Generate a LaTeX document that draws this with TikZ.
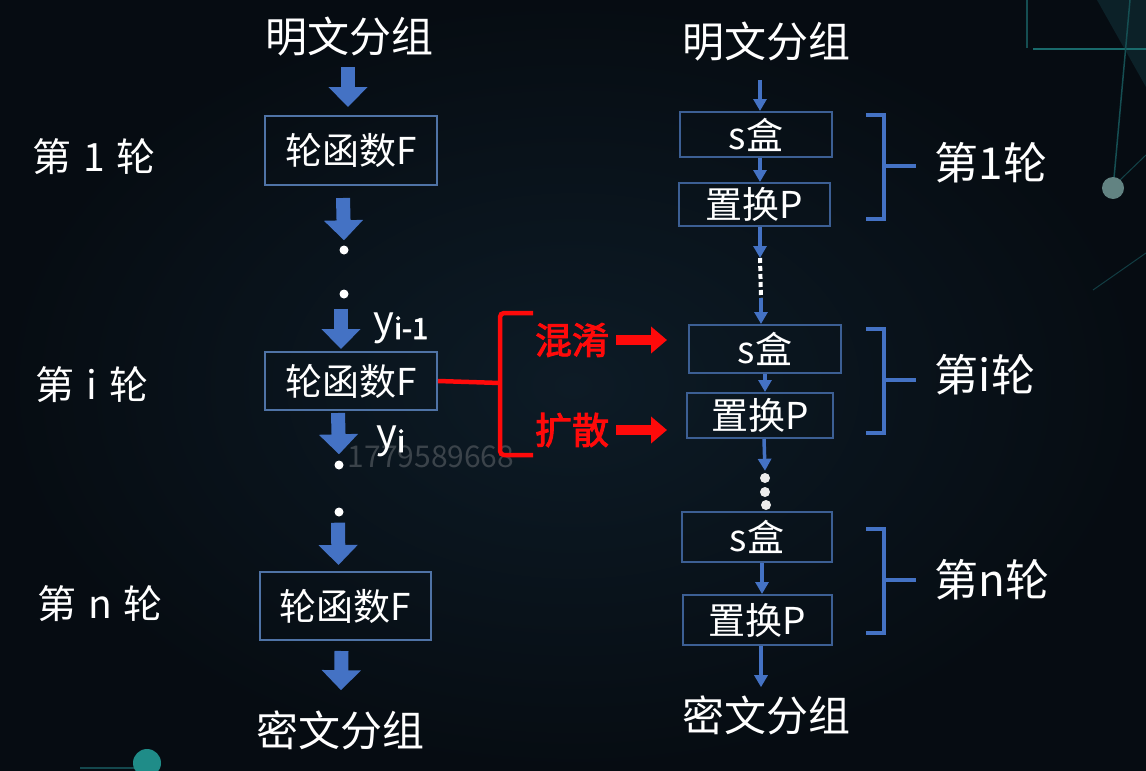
\documentclass[tikz,border=0pt]{standalone}
\usepackage{fontspec}
\setmainfont{Noto Sans CJK SC}
\newfontfamily\cjkbold[FakeBold=2.5]{Noto Sans CJK SC}
\usetikzlibrary{arrows.meta,calc}

\definecolor{bgmid}{HTML}{0D1B26}
\definecolor{bgout}{HTML}{060C12}
\definecolor{flowblue}{HTML}{4472C4}
\definecolor{boxedge}{HTML}{4F73A6}
\definecolor{boxedgeR}{HTML}{3C5F94}
\definecolor{hotred}{HTML}{FF0A0A}
\definecolor{teal}{HTML}{1F8C88}

\tikzset{
  label/.style={text=white, inner sep=0pt, font=\fontsize{42}{44}\selectfont},
  fbox/.style={draw=boxedge, line width=2pt, text=white, inner sep=0pt,
               font=\fontsize{37}{40}\selectfont},
  rbox/.style={draw=boxedgeR, line width=2pt, text=white, inner sep=0pt,
               font=\fontsize{37}{40}\selectfont},
  fat/.style={draw=flowblue, line width=14pt,
              -{Triangle[width=38pt,length=20pt]}},
  thin/.style={draw=flowblue, line width=3.5pt,
               -{Triangle[width=13pt,length=12pt]}},
  dotn/.style={circle, fill=white, inner sep=0pt, minimum size=9pt},
  sdot/.style={circle, fill=white!85!gray, inner sep=0pt, minimum size=10pt},
  redfat/.style={draw=hotred, line width=10pt,
                 -{Triangle[width=26pt,length=16pt]}},
  redword/.style={text=hotred, inner sep=0pt, font=\fontsize{37}{39}\selectfont\cjkbold},
  brace/.style={draw=flowblue, line width=4pt},
  roundlbl/.style={text=white, inner sep=0pt, font=\fontsize{39}{42}\selectfont},
  sidelbl/.style={text=white, inner sep=0pt, font=\fontsize{44}{46}\selectfont},
}

\begin{document}
\begin{tikzpicture}[x=1pt,y=-1pt]
  % backdrop
  \shade[inner color=bgmid, outer color=bgout] (0,0) rectangle (1146,771);
  \useasboundingbox (0,0) rectangle (1146,771);

  % faint ornament lines, top right and bottom left
  \fill[teal!25!bgmid, opacity=0.5] (1097,0) -- (1146,87) -- (1146,0) -- cycle;
  \draw[teal!45!bgmid, line width=1.5pt] (1027,0) -- (1027,48);
  \draw[teal!70!bgmid, line width=2pt] (1033,49) -- (1146,49);
  \draw[teal!45!bgmid, line width=1.5pt] (1130,0) -- (1114,178);
  \draw[teal!35!bgmid, line width=1pt] (1120,180) -- (1146,155);
  \draw[teal!30!bgmid, line width=1pt] (1093,290) -- (1146,253);
  \fill[gray!70!teal] (1113,188) circle (11);
  \draw[teal!40!bgmid, line width=2pt] (80,768) -- (147,768);
  \fill[teal] (147,763) circle (14);

  % ---------------- left column: rounds of F ----------------
  \node[label] (ptL) at (349,37) {明文分组};
  \node[fbox, minimum width=172pt, minimum height=69pt] (f1) at (351,150.5) {轮函数F};
  \node[dotn] (d1) at (344,250) {};
  \node[dotn] (d2) at (344,294) {};
  \node[fbox, minimum width=172pt, minimum height=58pt] (f2) at (351,381) {轮函数F};
  \node[dotn] (d3) at (339,465) {};
  \node[dotn] (d4) at (339,512) {};
  \node[fbox, minimum width=171pt, minimum height=68pt] (f3) at (345.5,606) {轮函数F};
  \node[label] (ctL) at (340,730) {密文分组};

  \node[roundlbl] (r1) at (94,157) {第\hspace{0.3em}1\hspace{0.3em}轮};
  \node[roundlbl] (ri) at (92,385) {第\hspace{0.3em}i\hspace{0.3em}轮};
  \node[roundlbl] (rn) at (100,604) {第\hspace{0.3em}n\hspace{0.3em}轮};

  \draw[fat] ($(ptL.south)+(-1,10)$) -- ($(f1.north)+(-3,-8)$);
  \draw[fat] ($(f1.south)+(-8,12)$) -- ($(d1.north)+(0,-5)$);
  \draw[fat] ($(d2.south)+(-3,10)$) -- ($(f2.north)+(-10,-2)$);
  \draw[fat] ($(f2.south)+(-13,2)$) -- ($(d3.north)+(0,-6)$);
  \draw[fat] ($(d4.south)+(-1,6)$) -- ($(f3.north)+(-7,-6)$);
  \draw[fat] ($(f3.south)+(-4,10)$) -- ($(ctL.north)+(1,-20)$);

  % watermark
  \node[text=gray!40!bgmid, inner sep=0pt, font=\fontsize{30}{32}\selectfont] (wm) at (431,457) {1779589668};

  \node[text=white, inner sep=0pt, anchor=base west,
        font=\fontsize{40}{42}\selectfont] (yprev) at (373,334)
        {y\raisebox{-5pt}{\fontsize{29}{30}\selectfont\cjkbold i-1}};
  \node[text=white, inner sep=0pt, anchor=base west,
        font=\fontsize{40}{42}\selectfont] (ycur) at (376,447)
        {y\raisebox{-5pt}{\fontsize{29}{30}\selectfont\cjkbold i}};

  % ---------------- right column: S-box and permutation ----------------
  \node[label] (ptR) at (766,42) {明文分组};
  \node[rbox, minimum width=152pt, minimum height=45pt] (s1) at (756,134.5) {s盒};
  \node[rbox, minimum width=151pt, minimum height=43pt] (p1) at (754.5,204.5) {置换P};
  \node[rbox, minimum width=152pt, minimum height=48pt] (s2) at (765,349) {s盒};
  \node[rbox, minimum width=146pt, minimum height=45pt] (p2) at (760,415.5) {置换P};
  \node[sdot] (e1) at (765,478) {};
  \node[sdot] (e2) at (765,492) {};
  \node[sdot] (e3) at (766,505) {};
  \node[rbox, minimum width=150pt, minimum height=50pt] (s3) at (757,537) {s盒};
  \node[rbox, minimum width=149pt, minimum height=50pt] (p3) at (757.5,620) {置换P};
  \node[label] (ctR) at (766,715) {密文分组};

  \coordinate (gapA) at (760,258);
  \coordinate (gapB) at (761,298);

  \draw[thin] ($(ptR.south)+(-6,18)$) -- (s1.north -| 760,0);
  \draw[thin] (s1.south -| 760,0) -- (p1.north -| 760,0);
  \draw[thin] (p1.south -| 760,0) -- (gapA);
  \draw[white, line width=4pt, dash pattern=on 5pt off 3pt] (gapA) -- (gapB);
  \draw[thin] (gapB) -- (s2.north -| gapB);
  \draw[thin] (s2.south -| 765,0) -- (p2.north -| 765,0);
  \draw[thin] (p2.south -| 764,0) -- ($(e1.north)+(0,-2)$);
  \draw[thin] (s3.south -| 762,0) -- (p3.north -| 762,0);
  \draw[thin] (p3.south -| 761,0) -- ($(ctR.north)+(-5,-8)$);

  % round braces
  \coordinate (b1) at (884,166);
  \coordinate (b2) at (884,380);
  \coordinate (b3) at (884,580);
  \node[sidelbl] (q1) at (991,163) {第1轮};
  \node[sidelbl] (qi) at (985,375) {第i轮};
  \node[sidelbl] (qn) at (992,580) {第n轮};
  \foreach \b in {b1,b2,b3} {
    \draw[brace] ($(\b)+(-18,-51)$) -- ($(\b)+(0,-51)$) -- ($(\b)+(0,53)$) -- ($(\b)+(-18,53)$);
    \draw[brace] (\b) -- ++(32,0);
  }

  % ---------------- confusion / diffusion ----------------
  \coordinate (rb) at (500,383);
  \draw[hotred, line width=4.5pt] (f2.east) -- (rb);
  \draw[hotred, line width=4.5pt, rounded corners=4pt]
       (533,313) -- (500,313) -- (500,455) -- (533,455);
  \node[redword] (hx) at (572,340) {混淆};
  \node[redword] (ks) at (572,430) {扩散};
  \draw[redfat, shorten <=7pt, shorten >=21pt] (hx.east) -- (hx.east -| s2.west);
  \draw[redfat, shorten <=7pt, shorten >=19pt] (ks.east) -- (ks.east -| p2.west);
\end{tikzpicture}
\end{document}
